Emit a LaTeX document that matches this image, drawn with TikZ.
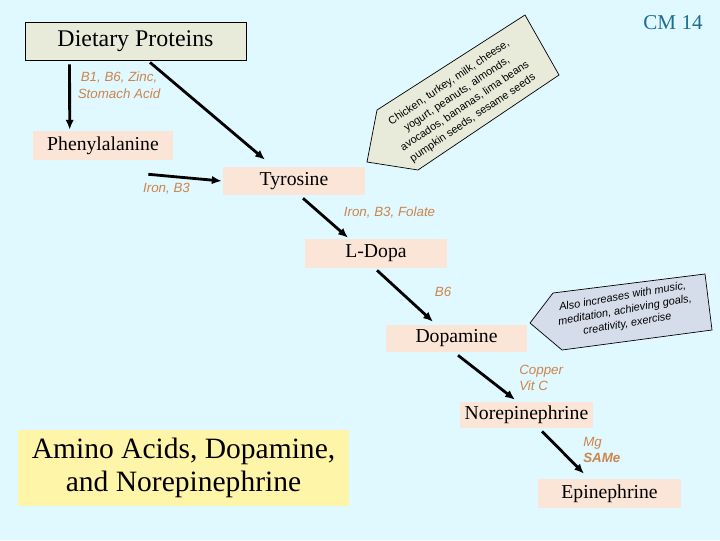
\documentclass[tikz,border=0pt]{standalone}
\usepackage{fontspec}
\setmainfont{Liberation Serif}
\setsansfont{Liberation Sans}
\usetikzlibrary{arrows.meta, positioning, calc}
\definecolor{PaleCyan}{RGB}{224, 248, 255}
\definecolor{Peach}{RGB}{251, 229, 214}
\definecolor{Khaki}{RGB}{233, 235, 218}
\definecolor{Butter}{RGB}{255, 245, 168}
\definecolor{Slate}{RGB}{214, 221, 234}
\definecolor{Rust}{RGB}{205, 133, 73}
\definecolor{DeepTeal}{RGB}{30, 110, 140}

\begin{document}
\begin{tikzpicture}[x=0.025cm, y=-0.025cm,
        chem/.style={fill=Peach, inner sep=0pt, minimum width=3.55cm, minimum height=0.7cm, font=\fontsize{14}{16}\selectfont},
        cofactor/.style={text=Rust, inner sep=0pt, align=center, font=\sffamily\itshape\fontsize{9.5}{11.8}\selectfont},
        conv/.style={-{Latex[length=7pt, width=6pt]}, line width=2pt},
        callout/.style={draw=black, line width=0.5pt}]
        \fill[PaleCyan] (0,0) rectangle (720,540);

        % boxes
        \node[draw=black, line width=0.6pt, fill=Khaki, inner sep=0pt, minimum width=5.525cm, minimum height=0.95cm, font=\fontsize{17}{20}\selectfont] (diet) at (135.5,41) {Dietary Proteins};
        \node[chem, minimum width=3.5cm, minimum height=0.725cm] (phe) at (103,145.5) {Phenylalanine};
        \node[chem] (tyr) at (294,181) {Tyrosine};
        \node[chem, minimum height=0.725cm] (ldopa) at (376,253.5) {L-Dopa};
        \node[chem, minimum width=3.525cm, minimum height=0.675cm] (dopa) at (456.5,338.5) {Dopamine};
        \node[chem, minimum width=3.325cm, minimum height=0.65cm] (norep) at (526.5,415) {Norepinephrine};
        \node[chem, minimum width=3.575cm, minimum height=0.725cm] (epi) at (609.5,493.5) {Epinephrine};
        \node[fill=Butter, inner sep=0pt, minimum width=8.275cm, minimum height=1.9cm, align=center, font=\fontsize{21}{24}\selectfont] (title) at (183.5,468) {Amino Acids, Dopamine,\\and Norepinephrine};
        \node[text=DeepTeal, font=\fontsize{15}{17}\selectfont] (cm) at (673,23) {CM 14};

        % food callout
        \draw[callout, fill=Khaki] (525,15) -- (559,75) -- (418,170) -- (367,162) -- (377,110) -- cycle;
        \node[rotate=34, align=center, inner sep=0pt, font=\sffamily\fontsize{7.7}{10.1}\selectfont] (foods) at (461,100.5) {Chicken, turkey, milk, cheese,\\yogurt, peanuts, almonds,\\avocados, bananas, lima beans\\pumpkin seeds, sesame seeds};

        % dopamine callout
        \draw[callout, fill=Slate] (530,323) -- (553,293) -- (705,274) -- (712,330) -- (562,350) -- cycle;
        \node[rotate=10, align=center, inner sep=0pt, font=\sffamily\itshape\fontsize{7.8}{9.8}\selectfont] (extras) at (625,310.5) {Also increases with music,\\meditation, achieving goals,\\creativity, exercise};

        % cofactors
        \node[cofactor] (zinc) at (119,85) {B1, B6, Zinc,\\Stomach Acid};
        \node[cofactor] (iron) at (166.5,189) {Iron, B3};
        \node[cofactor] (folate) at (389.5,213) {Iron, B3, Folate};
        \node[cofactor] (bsix) at (443,292) {B6};
        \node[cofactor, anchor=west, align=left] (copper) at (519,378) {Copper\\Vit C};
        \node[cofactor, anchor=west, align=left] (mg) at (583,450) {Mg\\\textbf{SAMe}};

        % pathway
        \draw[conv] ($(diet.south west)+(45,4)$) -- ($(phe.north west)+(37,-1)$);
        \draw[conv] ($(diet.south)+(14.5,2)$) -- ($(tyr.north)+(-29,-7)$);
        \draw[conv] ($(phe.south east)+(-25,14)$) -- ($(tyr.west)+(-1,0)$);
        \draw[conv] ($(tyr.south)+(9,3)$) -- ($(ldopa.north)+(-28,-1)$);
        \draw[conv] ($(ldopa.south)+(1,2)$) -- ($(dopa.north)+(-23.5,-3)$);
        \draw[conv] ($(dopa.south)+(1.5,3)$) -- ($(norep.north)+(-11.5,-2)$);
        \draw[conv] ($(norep.south)+(15.5,3)$) -- ($(epi.north)+(-25.5,-5)$);
    \end{tikzpicture}
\end{document}
